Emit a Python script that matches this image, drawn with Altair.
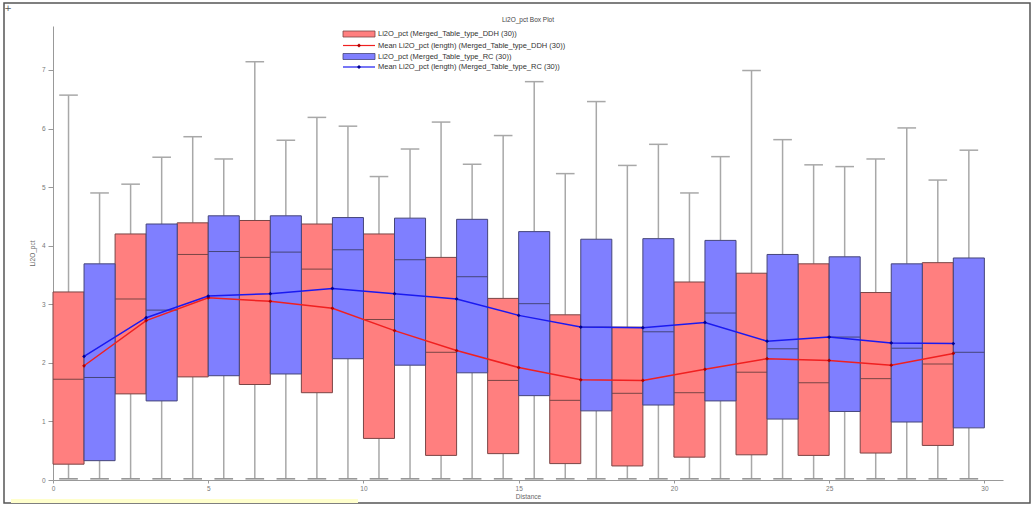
import altair as alt
import pandas as pd

# Distance bins (bin centres) and per-bin box statistics of Li2O_pct
bins = [1, 3, 5, 7, 9, 11, 13, 15, 17, 19, 21, 23, 25, 27, 29]

ddh_min = [0.02, 0.02, 0.02, 0.02, 0.02, 0.02, 0.02, 0.02, 0.02, 0.02, 0.02, 0.02, 0.02, 0.02, 0.02]
ddh_q1 = [0.27, 1.47, 1.76, 1.63, 1.49, 0.71, 0.42, 0.45, 0.28, 0.24, 0.39, 0.43, 0.42, 0.46, 0.59]
ddh_median = [1.72, 3.09, 3.85, 3.80, 3.60, 2.74, 2.18, 1.70, 1.36, 1.48, 1.49, 1.84, 1.66, 1.73, 1.98]
ddh_q3 = [3.21, 4.20, 4.39, 4.43, 4.37, 4.20, 3.80, 3.10, 2.82, 2.61, 3.38, 3.53, 3.69, 3.20, 3.71]
ddh_max = [6.57, 5.05, 5.86, 7.14, 6.19, 5.18, 6.11, 5.88, 5.23, 5.37, 4.90, 6.99, 5.38, 5.48, 5.12]
ddh_mean = [1.95, 2.72, 3.11, 3.05, 2.93, 2.55, 2.21, 1.92, 1.71, 1.70, 1.89, 2.07, 2.04, 1.96, 2.16]

rc_min = [0.02, 0.02, 0.02, 0.02, 0.02, 0.02, 0.02, 0.02, 0.02, 0.02, 0.02, 0.02, 0.02, 0.02, 0.02]
rc_q1 = [0.33, 1.35, 1.78, 1.81, 2.07, 1.96, 1.83, 1.44, 1.18, 1.28, 1.35, 1.04, 1.17, 0.99, 0.89]
rc_median = [1.75, 2.90, 3.90, 3.89, 3.93, 3.76, 3.47, 3.01, 2.61, 2.53, 2.85, 2.24, 2.44, 2.25, 2.18]
rc_q3 = [3.69, 4.37, 4.51, 4.51, 4.48, 4.47, 4.45, 4.24, 4.11, 4.12, 4.09, 3.85, 3.81, 3.69, 3.79]
rc_max = [4.90, 5.51, 5.48, 5.80, 6.04, 5.65, 5.39, 6.80, 6.46, 5.73, 5.52, 5.81, 5.35, 6.01, 5.63]
rc_mean = [2.11, 2.77, 3.14, 3.18, 3.27, 3.18, 3.09, 2.81, 2.61, 2.60, 2.69, 2.37, 2.44, 2.34, 2.33]

x_ticks = [0, 5, 10, 15, 20, 25, 30]
y_ticks = [0, 1, 2, 3, 4, 5, 6, 7]

chart_title = "Li2O_pct Box Plot"
legend_labels = [
    "Li2O_pct (Merged_Table_type_DDH (30))",
    "Mean Li2O_pct (length) (Merged_Table_type_DDH (30))",
    "Li2O_pct (Merged_Table_type_RC (30))",
    "Mean Li2O_pct (length) (Merged_Table_type_RC (30))",
]


def frame(offset, mins, q1, med, q3, maxs, means):
    # DDH boxes sit left of the bin centre, RC boxes to the right
    rows = []
    for i, b in enumerate(bins):
        left = b - 1 + offset
        rows.append(dict(
            bin=b, x0=left, x1=left + 1, xc=left + 0.5,
            cl=left + 0.2, cr=left + 0.8,
            lo=mins[i], q1=q1[i], med=med[i], q3=q3[i], hi=maxs[i], mean=means[i],
        ))
    return pd.DataFrame(rows)


ddh = frame(0, ddh_min, ddh_q1, ddh_median, ddh_q3, ddh_max, ddh_mean)
rc = frame(1, rc_min, rc_q1, rc_median, rc_q3, rc_max, rc_mean)

X = alt.Scale(domain=[0, 30.6], nice=False, zero=False)
Y = alt.Scale(domain=[0, 7.75], nice=False)

x_axis = alt.Axis(values=x_ticks, format="d", title="Distance", grid=False, labelFontSize=6.5,
                  titleFontSize=6.5, titleFontWeight="normal", labelColor="#777",
                  titleColor="#666", domainColor="#999", tickColor="#999", tickSize=3,
                  labelPadding=2, titlePadding=2, labelFlush=False)
y_axis = alt.Axis(values=y_ticks, format="d", title="Li2O_pct", grid=False, labelFontSize=6.5,
                  titleFontSize=6.5, titleFontWeight="normal", labelColor="#777",
                  titleColor="#666", domainColor="#999", tickColor="#999", tickSize=5,
                  labelPadding=3, titlePadding=6)

WHISK = "#a8a8a8"


def box_layers(df, fill, edge):
    base = alt.Chart(df)
    upper = base.mark_rule(color=WHISK, strokeWidth=1.5).encode(
        x=alt.X("xc:Q", scale=X, axis=x_axis), y=alt.Y("q3:Q", scale=Y, axis=y_axis), y2="hi:Q")
    lower = base.mark_rule(color=WHISK, strokeWidth=1.5).encode(
        x=alt.X("xc:Q", scale=X), y=alt.Y("lo:Q", scale=Y), y2="q1:Q")
    cap_top = base.mark_rule(color=WHISK, strokeWidth=1.5).encode(
        x=alt.X("cl:Q", scale=X), x2="cr:Q", y=alt.Y("hi:Q", scale=Y))
    cap_bot = base.mark_rule(color="#909090", strokeWidth=1.5).encode(
        x=alt.X("cl:Q", scale=X), x2="cr:Q", y=alt.Y("lo:Q", scale=Y))
    box = base.mark_rect(fill=fill, stroke=edge, strokeWidth=1).encode(
        x=alt.X("x0:Q", scale=X), x2="x1:Q", y=alt.Y("q1:Q", scale=Y), y2="q3:Q")
    median = base.mark_rule(color=edge, strokeWidth=1).encode(
        x=alt.X("x0:Q", scale=X), x2="x1:Q", y=alt.Y("med:Q", scale=Y))
    return [upper, lower, cap_top, cap_bot, box, median]


def mean_layer(df, line_color, point_color):
    return alt.Chart(df).mark_line(
        color=line_color, strokeWidth=1.5,
        point=alt.OverlayMarkDef(shape="diamond", size=14, filled=True, color=point_color),
    ).encode(x=alt.X("bin:Q", scale=X), y=alt.Y("mean:Q", scale=Y))


RED_FILL, RED_EDGE, RED_LINE, RED_PT = "#ff7f7f", "#7a4545", "#f02020", "#b00000"
BLUE_FILL, BLUE_EDGE, BLUE_LINE, BLUE_PT = "#7f7fff", "#45457a", "#1a1af0", "#000090"

layers = box_layers(ddh, RED_FILL, RED_EDGE) + box_layers(rc, BLUE_FILL, BLUE_EDGE)
layers += [mean_layer(ddh, RED_LINE, RED_PT), mean_layer(rc, BLUE_LINE, BLUE_PT)]

# Title and legend drawn in the top of the plot area
dummy = alt.Chart(pd.DataFrame({"k": [0]}))
title = dummy.mark_text(align="center", baseline="middle", fontSize=6.5,
                        font="Liberation Sans", color="#444").encode(
    x=alt.value(475), y=alt.value(-6), text=alt.value(chart_title))

leg_x0, leg_x1, txt_x = 290, 322, 325
row_y = [8, 19.5, 30.5, 41]
legend = [
    dummy.mark_rect(fill=RED_FILL, stroke=RED_EDGE, strokeWidth=0.8).encode(
        x=alt.value(leg_x0), x2=alt.value(leg_x1), y=alt.value(row_y[0] - 3), y2=alt.value(row_y[0] + 3)),
    dummy.mark_rule(color=RED_LINE, strokeWidth=1.2).encode(
        x=alt.value(leg_x0), x2=alt.value(leg_x1), y=alt.value(row_y[1])),
    dummy.mark_point(shape="diamond", size=16, filled=True, color=RED_PT, opacity=1).encode(
        x=alt.value((leg_x0 + leg_x1) / 2), y=alt.value(row_y[1])),
    dummy.mark_rect(fill=BLUE_FILL, stroke=BLUE_EDGE, strokeWidth=0.8).encode(
        x=alt.value(leg_x0), x2=alt.value(leg_x1), y=alt.value(row_y[2] - 3), y2=alt.value(row_y[2] + 3)),
    dummy.mark_rule(color=BLUE_LINE, strokeWidth=1.2).encode(
        x=alt.value(leg_x0), x2=alt.value(leg_x1), y=alt.value(row_y[3])),
    dummy.mark_point(shape="diamond", size=16, filled=True, color=BLUE_PT, opacity=1).encode(
        x=alt.value((leg_x0 + leg_x1) / 2), y=alt.value(row_y[3])),
]
for label, ry in zip(legend_labels, row_y):
    legend.append(dummy.mark_text(align="left", baseline="middle", fontSize=7.5,
                                  font="Liberation Sans", color="#333").encode(
        x=alt.value(txt_x), y=alt.value(ry), text=alt.value(label)))

# Window frame, corner glyph and status strip around the plot
decor = [
    dummy.mark_rect(fill="transparent", stroke="#555", strokeWidth=1.5).encode(
        x=alt.value(-49), x2=alt.value(977), y=alt.value(-23), y2=alt.value(477)),
    dummy.mark_rect(fill="#ffffcc").encode(
        x=alt.value(-42), x2=alt.value(305), y=alt.value(473), y2=alt.value(477)),
    dummy.mark_text(fontSize=9, color="#555", font="DejaVu Sans").encode(
        x=alt.value(-45), y=alt.value(-18), text=alt.value("+")),
]

chart = alt.layer(*layers, title, *legend, *decor).properties(
    width=950, height=454,
    padding={"left": 53, "top": 26, "right": 30, "bottom": 26},
    autosize=alt.AutoSizeParams(type="none"),
).configure_view(stroke=None).configure_axis(
    labelFont="Liberation Sans", titleFont="Liberation Sans"
)

chart.save("out.html", embed_options={"renderer": "svg", "actions": False})
